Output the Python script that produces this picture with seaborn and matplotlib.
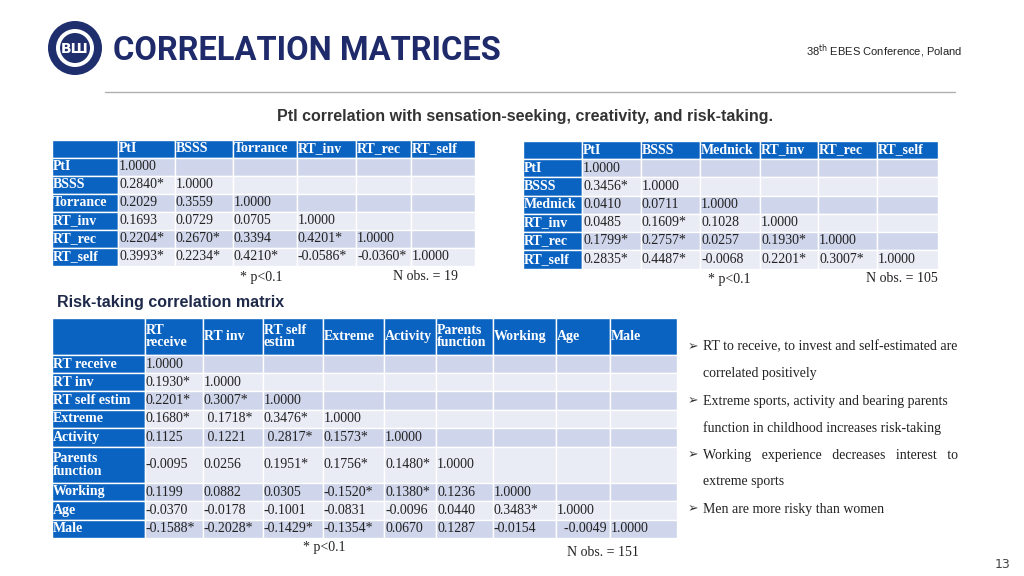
import matplotlib
matplotlib.use("Agg")
import matplotlib.pyplot as plt
import seaborn as sns
from matplotlib.patches import Rectangle, Circle

sns.set_theme(style="white")

# ---------- data ----------
t1_cols = ["PtI", "BSSS", "Torrance", "RT_inv", "RT_rec", "RT_self"]
t1_rows = ["PtI", "BSSS", "Torrance", "RT_inv", "RT_rec", "RT_self"]
t1_vals = [
    ["1.0000"],
    ["0.2840*", "1.0000"],
    ["0.2029", "0.3559", "1.0000"],
    ["0.1693", "0.0729", "0.0705", "1.0000"],
    ["0.2204*", "0.2670*", "0.3394", "0.4201*", "1.0000"],
    ["0.3993*", "0.2234*", "0.4210*", "-0.0586*", "-0.0360*", "1.0000"],
]
t2_cols = ["PtI", "BSSS", "Mednick", "RT_inv", "RT_rec", "RT_self"]
t2_rows = ["PtI", "BSSS", "Mednick", "RT_inv", "RT_rec", "RT_self"]
t2_vals = [
    ["1.0000"],
    ["0.3456*", "1.0000"],
    ["0.0410", "0.0711", "1.0000"],
    ["0.0485", "0.1609*", "0.1028", "1.0000"],
    ["0.1799*", "0.2757*", "0.0257", "0.1930*", "1.0000"],
    ["0.2835*", "0.4487*", "-0.0068", "0.2201*", "0.3007*", "1.0000"],
]
t3_cols = ["RT\nreceive", "RT inv", "RT self\nestim", "Extreme", "Activity",
           "Parents\nfunction", "Working", "Age", "Male"]
t3_rows = ["RT receive", "RT inv", "RT self estim", "Extreme", "Activity",
           "Parents\nfunction", "Working", "Age", "Male"]
t3_vals = [
    ["1.0000"],
    ["0.1930*", "1.0000"],
    ["0.2201*", "0.3007*", "1.0000"],
    ["0.1680*", " 0.1718*", "0.3476*", "1.0000"],
    ["0.1125", " 0.1221", " 0.2817*", "0.1573*", "1.0000"],
    ["-0.0095", "0.0256", "0.1951*", "0.1756*", "0.1480*", "1.0000"],
    ["0.1199", "0.0882", "0.0305", "-0.1520*", "0.1380*", "0.1236", "1.0000"],
    ["-0.0370", "-0.0178", "-0.1001", "-0.0831", "-0.0096", "0.0440", "0.3483*", "1.0000"],
    ["-0.1588*", "-0.2028*", "-0.1429*", "-0.1354*", "0.0670", "0.1287", "-0.0154", "  -0.0049", "1.0000"],
]
bullets = [
    ["RT to receive, to invest and self-estimated are", "correlated positively"],
    ["Extreme sports, activity and bearing parents", "function in childhood increases risk-taking"],
    ["Working   experience   decreases   interest   to", "extreme sports"],
    ["Men are more risky than women"],
]

# ---------- figure ----------
fig = plt.figure(figsize=(10.24, 5.76), dpi=100)
ax = fig.add_axes([0, 0, 1, 1])
ax.set_xlim(0, 1024)
ax.set_ylim(576, 0)
ax.axis("off")

BLUE = "#0b63c1"
L1 = "#cfd5ea"
L2 = "#e9ebf5"
SERIF = "Liberation Serif"


def table(xs, ys, cols, rows, vals, fs=10):
    for i in range(len(ys) - 1):
        for j in range(len(xs) - 1):
            if i == 0 or j == 0:
                c = BLUE
            else:
                c = L1 if i % 2 == 1 else L2
            ax.add_patch(Rectangle((xs[j], ys[i]), xs[j + 1] - xs[j], ys[i + 1] - ys[i],
                                   facecolor=c, edgecolor="white", lw=1))
    for j, t in enumerate(cols):
        ax.text(xs[j + 1] + 1, (ys[0] + ys[1]) / 2, t, color="white", fontsize=fs,
                fontweight="bold", family=SERIF, va="center", ha="left", linespacing=1.0)
    for i, t in enumerate(rows):
        ax.text(xs[0] + 1, (ys[i + 1] + ys[i + 2]) / 2, t, color="white", fontsize=fs,
                fontweight="bold", family=SERIF, va="center", ha="left", linespacing=1.0)
        for j, v in enumerate(vals[i]):
            ax.text(xs[j + 1] + 1, (ys[i + 1] + ys[i + 2]) / 2, v, color="#222222",
                    fontsize=fs, family=SERIF, va="center", ha="left")


table([52, 118, 175, 233, 297, 356, 411, 475],
      [140, 158, 176, 194, 212, 230, 248, 266], t1_cols, t1_rows, t1_vals)
table([523, 582, 641, 700, 760, 818, 877, 938],
      [141, 159, 177, 196, 214, 232, 250, 269], t2_cols, t2_rows, t2_vals)
table([52, 145, 203, 263, 323, 384, 436, 493, 556, 610, 677],
      [318, 355, 373, 391, 410, 428, 447, 483, 501, 520, 538], t3_cols, t3_rows, t3_vals)

for x, y, t in [(240, 278, "* p<0.1"), (393, 276, "N obs. = 19"),
                (708, 280, "* p<0.1"), (866, 278, "N obs. = 105"),
                (303, 548, "* p<0.1"), (567, 552, "N obs. = 151")]:
    ax.text(x, y, t, fontsize=10, family=SERIF, color="#222222", va="center")

# header
ax.add_patch(Circle((75, 48), 27, facecolor="#1f2f6e", edgecolor="none"))
ax.add_patch(Circle((75, 48), 19, facecolor="white", edgecolor="none"))
ax.add_patch(Circle((75, 48), 15, facecolor="#1f2f6e", edgecolor="none"))
ax.text(75, 49, "ВШ", fontsize=10, color="white", ha="center", va="center", fontweight="bold")
ax.text(113, 51, "CORRELATION MATRICES", fontsize=23.5, fontweight="bold", color="#1f2a6b",
        family="Roboto", va="center", ha="left")
ax.text(806, 51, r"38$^{\rm th}$ EBES Conference, Poland", fontsize=8, color="#222222",
        va="center", ha="left", family="Liberation Sans")
ax.plot([105, 955], [92, 92], color="#b0b0b0", lw=1)
ax.text(525, 116, "PtI correlation with sensation-seeking, creativity, and risk-taking.",
        fontsize=11.5, fontweight="bold", color="#333333", ha="center", va="center",
        family="Liberation Sans")
ax.text(57, 302, "Risk-taking correlation matrix", fontsize=11.5, fontweight="bold",
        color="#1f2a4b", va="center", ha="left", family="Liberation Sans")

y = 347
for b in bullets:
    ax.text(688, y, "➢", fontsize=9, color="#333333", va="center", family="DejaVu Sans")
    for k, line in enumerate(b):
        ax.text(703, y, line, fontsize=10, family=SERIF, color="#222222", va="center")
        y += 27
ax.text(1010, 565, "13", fontsize=9, color="#444444", ha="right", va="center")

fig.savefig("out.png", dpi=100)
